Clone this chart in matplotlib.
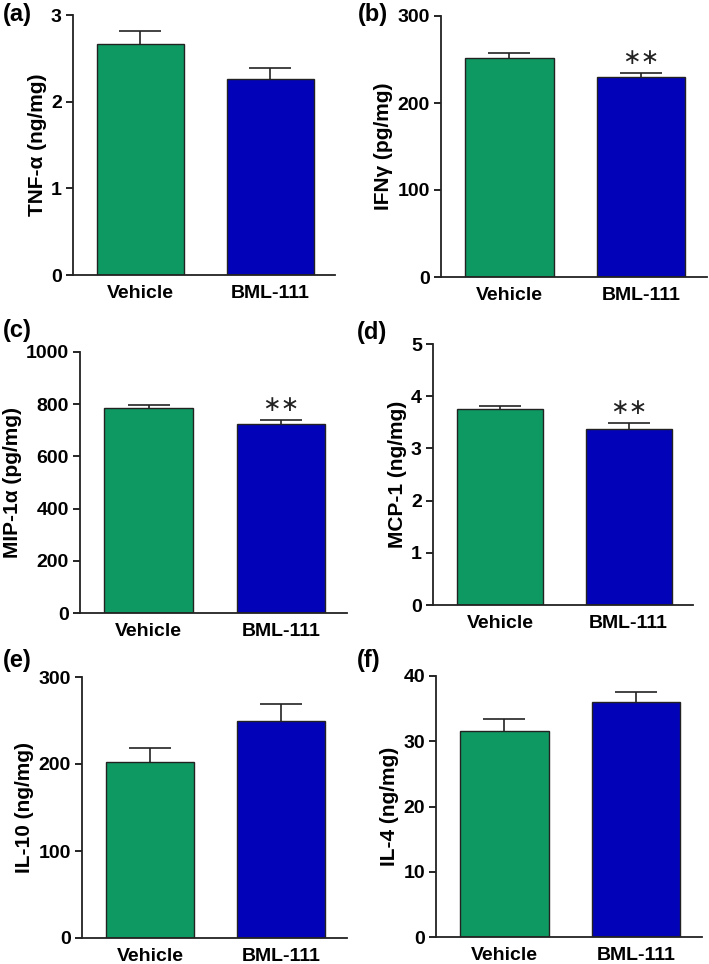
import matplotlib
matplotlib.use("Agg")
import matplotlib.pyplot as plt

plt.rcParams['font.family'] = ['Liberation Sans', 'DejaVu Sans']

groups = ["Vehicle", "BML-111"]
colors = ["#0f9962", "#0202b8"]

panel_letters = ["(a)", "(b)", "(c)", "(d)", "(e)", "(f)"]
ylabels = ["TNF-α (ng/mg)", "IFNγ (pg/mg)", "MIP-1α (pg/mg)",
           "MCP-1 (ng/mg)", "IL-10 (ng/mg)", "IL-4 (ng/mg)"]

tnf_mean = [2.66, 2.26]
tnf_err = [0.16, 0.13]
ifn_mean = [252, 230]
ifn_err = [5, 4]
mip_mean = [785, 726]
mip_err = [11, 13]
mcp_mean = [3.76, 3.38]
mcp_err = [0.06, 0.10]
il10_mean = [202, 249]
il10_err = [16, 20]
il4_mean = [31.6, 36.0]
il4_err = [1.8, 1.5]

means = [tnf_mean, ifn_mean, mip_mean, mcp_mean, il10_mean, il4_mean]
errs = [tnf_err, ifn_err, mip_err, mcp_err, il10_err, il4_err]
yticks = [[0, 1, 2, 3], [0, 100, 200, 300], [0, 200, 400, 600, 800, 1000],
          [0, 1, 2, 3, 4, 5], [0, 100, 200, 300], [0, 10, 20, 30, 40]]
significant = [False, True, True, True, False, False]

W, H = 709, 964
# axes boxes in pixels: left, right, top, bottom
boxes = [(73, 335, 15, 275), (441, 707, 16, 277),
         (80, 347, 352, 613), (433, 693, 344, 605),
         (82, 347, 677, 938), (436, 702, 676, 937)]
# panel letter positions in pixels (left x, centre y)
letter_pos = [(3, 15), (358, 15), (3, 331), (357, 332), (3, 660), (357, 661)]

fig = plt.figure(figsize=(W / 100, H / 100), dpi=100)

for i in range(6):
    l, r, t, b = boxes[i]
    ax = fig.add_axes([l / W, 1 - b / H, (r - l) / W, (b - t) / H])
    x = [0, 1]
    ax.bar(x, means[i], width=0.67, color=colors, edgecolor="#222222",
           linewidth=1.0, zorder=2)
    eb = ax.errorbar(x, means[i], yerr=[[0, 0], errs[i]], fmt='none',
                     ecolor="#222222", elinewidth=1.2, capsize=15,
                     capthick=1.2, zorder=1)
    eb[1][0].set_visible(False)
    ax.set_xlim(-0.52, 1.5)
    yt = yticks[i]
    ax.set_ylim(0, yt[-1])
    ax.set_yticks(yt)
    ax.set_yticklabels([str(v) for v in yt], fontsize=14, fontweight='bold')
    ax.set_xticks(x)
    ax.set_xticklabels(groups, fontsize=14, fontweight='bold')
    ax.tick_params(axis='x', length=0, pad=7)
    ax.tick_params(axis='y', length=5, width=1.2, pad=3)
    for s in ['top', 'right']:
        ax.spines[s].set_visible(False)
    for s in ['left', 'bottom']:
        ax.spines[s].set_linewidth(1.3)
        ax.spines[s].set_color("#222222")
    ax.set_ylabel(ylabels[i], fontsize=15, fontweight='bold', labelpad=3)
    lx, ly = letter_pos[i]
    fig.text(lx / W, 1 - ly / H, panel_letters[i], fontsize=17,
             fontweight='bold', ha='left', va='center')
    if significant[i]:
        ax.text(1, means[i][1] + errs[i][1] + yt[-1] * 0.02, "∗∗",
                family='DejaVu Sans', fontsize=16, ha='center', va='bottom',
                color="#222222")

fig.savefig("out.png", dpi=100)
